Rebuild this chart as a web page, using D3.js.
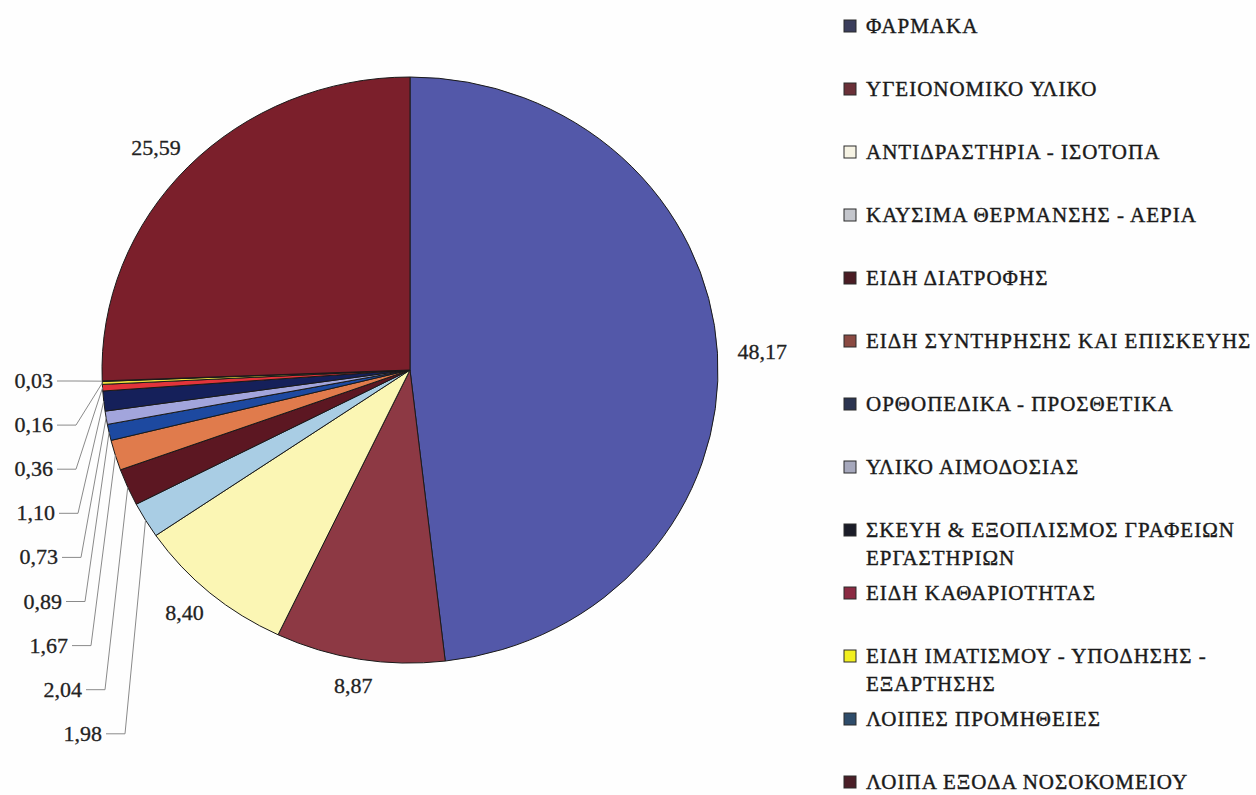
<!DOCTYPE html>
<html><head><meta charset="utf-8">
<script src="https://cdn.jsdelivr.net/npm/d3@7"></script>
<style>body{margin:0;background:#fff}svg{display:block}</style>
</head><body><svg id="c" width="1256" height="795"></svg>
<script>
const categories = [
  "ΦΑΡΜΑΚΑ",
  "ΥΓΕΙΟΝΟΜΙΚΟ ΥΛΙΚΟ",
  "ΑΝΤΙΔΡΑΣΤΗΡΙΑ - ΙΣΟΤΟΠΑ",
  "ΚΑΥΣΙΜΑ ΘΕΡΜΑΝΣΗΣ - ΑΕΡΙΑ",
  "ΕΙΔΗ ΔΙΑΤΡΟΦΗΣ",
  "ΕΙΔΗ ΣΥΝΤΗΡΗΣΗΣ ΚΑΙ ΕΠΙΣΚΕΥΗΣ",
  "ΟΡΘΟΠΕΔΙΚΑ - ΠΡΟΣΘΕΤΙΚΑ",
  "ΥΛΙΚΟ ΑΙΜΟΔΟΣΙΑΣ",
  "ΣΚΕΥΗ & ΕΞΟΠΛΙΣΜΟΣ ΓΡΑΦΕΙΩΝ ΕΡΓΑΣΤΗΡΙΩΝ",
  "ΕΙΔΗ ΚΑΘΑΡΙΟΤΗΤΑΣ",
  "ΕΙΔΗ ΙΜΑΤΙΣΜΟΥ - ΥΠΟΔΗΣΗΣ - ΕΞΑΡΤΗΣΗΣ",
  "ΛΟΙΠΕΣ ΠΡΟΜΗΘΕΙΕΣ",
  "ΛΟΙΠΑ ΕΞΟΔΑ ΝΟΣΟΚΟΜΕΙΟΥ"
];
const values = [48.17, 8.87, 8.40, 1.98, 2.04, 1.67, 0.89, 0.73, 1.10, 0.36, 0.16, 0.03, 25.59];
const valueLabels = values.map(v => v.toFixed(2).replace(".", ","));

const sliceColors = ["#5358a9","#8d3944","#fbf6b4","#a9cde4","#5c1722","#e07b4c","#1d49a0","#a2a5dc","#15205a","#e2343a","#f0e23e","#2b6a8c","#7b1f2b"];
const legendColors = ["#3b3e5c","#6a3038","#f6f3e4","#c4c6cc","#4a1c24","#8a4a42","#2b3450","#a6a8bc","#1b1c28","#8a2a42","#f2f020","#2e4c6a","#4a1f28"];

const svg = d3.select("#c");
svg.append("rect").attr("width",1256).attr("height",795).attr("fill","#fefefe");

const cx = 410, cy = 370, r = 308, ky = 293/308;
const pie = d3.pie().sort(null).value(d => d)(values);
const arc = d3.arc().innerRadius(0).outerRadius(r);

const g = svg.append("g").attr("transform", `translate(${cx},${cy}) scale(1,${ky})`);
g.selectAll("path").data(pie).join("path")
  .attr("d", arc)
  .attr("fill", (d,i) => sliceColors[i])
  .attr("stroke", "#1a1a1a")
  .attr("stroke-width", 1)
  .attr("vector-effect", "non-scaling-stroke");

const pt = (a, rr) => [cx + rr*Math.sin(a), cy - rr*Math.cos(a)*ky];
const mid = d => (d.startAngle + d.endAngle)/2;

const font = "'Liberation Serif','Times New Roman',serif";
const textInk = "#222";

// big labels
pie.forEach((d,i) => {
  if (values[i] < 5) return;
  const a = mid(d);
  const [px, py] = pt(a, r + 20);
  const t = svg.append("text").text(valueLabels[i])
    .attr("font-family", font).attr("font-size", 22).attr("fill", textInk)
    .attr("stroke", textInk).attr("stroke-width", 0.3);
  const w = t.node().getComputedTextLength(), h = 16;
  const x = px + Math.sin(a)*w/2, y = py - Math.cos(a)*h/2;
  t.attr("x", x).attr("y", y + 7).attr("text-anchor", "middle");
});

// small labels with leaders (top to bottom)
const smallIdx = values.map((v,i)=>i).filter(i => values[i] < 5).reverse();
const labelEndX = [53,53,53,55,58,62,68,82,102];
smallIdx.forEach((i, k) => {
  const d = pie[i];
  const y = 381 + k*44.1;
  const xe = labelEndX[k];
  const [px, py] = pt(mid(d), r);
  svg.append("polyline")
    .attr("points", `${xe+4},${y} ${xe+23},${y} ${px},${py}`)
    .attr("fill","none").attr("stroke","#8a8a8a").attr("stroke-width",1);
  svg.append("text").text(valueLabels[i])
    .attr("x", xe).attr("y", y + 7).attr("text-anchor","end")
    .attr("font-family", font).attr("font-size", 22).attr("fill", textInk)
    .attr("stroke", textInk).attr("stroke-width", 0.3);
});

// legend
const lx = 844, tx = 866, maxW = 1256 - tx;
categories.forEach((c, i) => {
  const y = 26 + i*63;
  svg.append("rect").attr("x", lx).attr("y", y - 6).attr("width", 12).attr("height", 12)
    .attr("fill", legendColors[i]).attr("stroke", "#2a2a2a").attr("stroke-width", 1);
  const t = svg.append("text").attr("x", tx).attr("y", y + 7)
    .attr("font-family", font).attr("font-size", 21).attr("letter-spacing", 1)
    .attr("fill", "#1a1a1a").attr("stroke", "#1a1a1a").attr("stroke-width", 0.4);
  const words = c.split(" ");
  let line = [], ts = t.append("tspan").attr("x", tx);
  words.forEach(wd => {
    line.push(wd);
    ts.text(line.join(" "));
    if (ts.node().getComputedTextLength() > maxW && line.length > 1) {
      line.pop(); ts.text(line.join(" "));
      line = [wd];
      ts = t.append("tspan").attr("x", tx).attr("dy", 28).text(wd);
    }
  });
});
</script></body></html>
